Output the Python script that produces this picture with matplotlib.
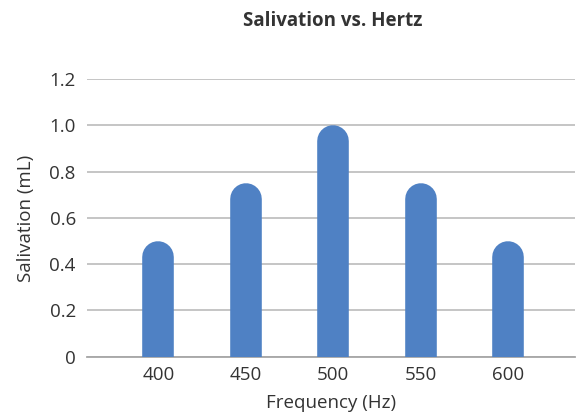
from matplotlib import pyplot as plt
import numpy as np

# chart data
freqs = [400, 450, 500, 550, 600]
salivation = [0.5, 0.75, 1.0, 0.75, 0.5]
yticks = [0, 0.2, 0.4, 0.6, 0.8, 1.0, 1.2]
ytick_labels = ['0', '0.2', '0.4', '0.6', '0.8', '1.0', '1.2']

BAR_COLOR = '#4F81C4'
GRID_COLOR = '#C0C0C0'
TEXT_COLOR = '#333333'

plt.rcParams['font.family'] = ['Open Sans', 'DejaVu Sans']


def main():
    dpi = 100
    fig = plt.figure(figsize=(5.83, 4.15), dpi=dpi)
    ax = fig.add_axes([0.149, 0.1405, 0.837, 0.669])
    ax.set_xlim(359.1, 638.3)
    ax.set_ylim(0, 1.2)

    # bars: round-capped thick lines, cap radius converted to data units
    bar_px = 31.6
    lw = bar_px * 72 / dpi
    px_per_unit = ax.get_position().height * fig.get_figheight() * dpi / 1.2
    r = bar_px / 2 / px_per_unit
    for f, v in zip(freqs, salivation):
        ax.plot([f, f], [-1, v - r], color=BAR_COLOR, lw=lw,
                solid_capstyle='round', zorder=3)

    ax.set_yticks(yticks)
    ax.set_yticklabels(ytick_labels)
    ax.set_xticks(freqs)
    ax.set_xticklabels([str(f) for f in freqs])
    ax.yaxis.grid(True, color=GRID_COLOR, lw=1.3)
    ax.set_axisbelow(True)
    for s in ['top', 'right', 'left']:
        ax.spines[s].set_visible(False)
    ax.spines['bottom'].set_color('#A6A6A6')
    ax.spines['bottom'].set_linewidth(1.3)
    ax.tick_params(length=0, labelsize=13.5, colors=TEXT_COLOR)
    ax.tick_params(axis='y', pad=8)
    ax.tick_params(axis='x', pad=7)

    ax.set_xlabel('Frequency (Hz)', fontsize=13.5, color=TEXT_COLOR, labelpad=7)
    ax.set_ylabel('Salivation (mL)', fontsize=13.5, color=TEXT_COLOR, labelpad=10)
    fig.text(0.5707, 0.9373, 'Salivation vs. Hertz', ha='center', va='baseline',
             fontsize=13.5, fontweight='bold', color=TEXT_COLOR)

    fig.savefig('out.png', dpi=dpi)


if __name__ == '__main__':
    main()
